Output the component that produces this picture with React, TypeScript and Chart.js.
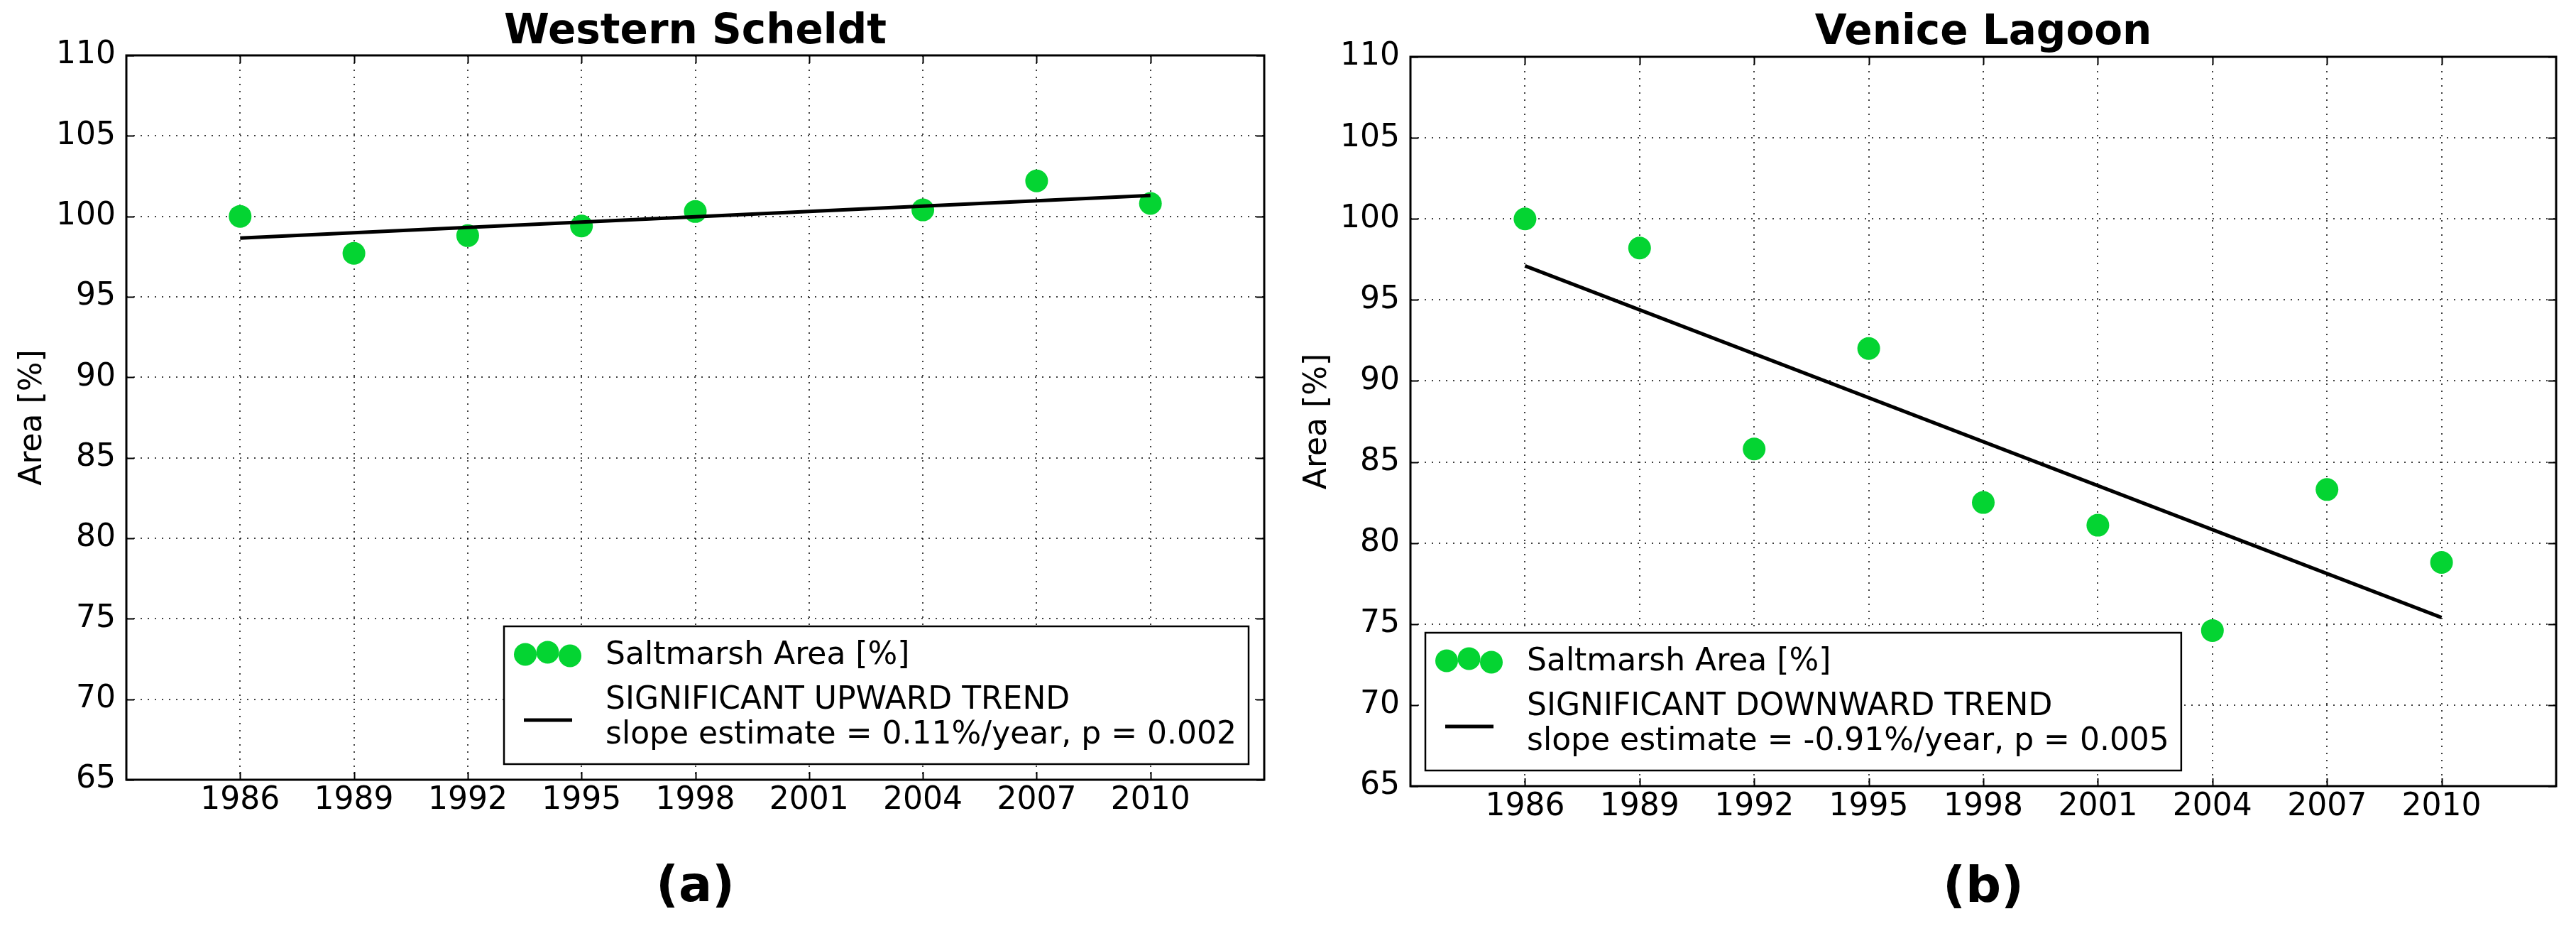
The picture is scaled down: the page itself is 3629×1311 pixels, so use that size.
import { useEffect, useRef } from 'react';
import { Chart, registerables } from 'chart.js';

Chart.register(...registerables);

const FONT = 'DejaVu Sans';
const GREEN = '#04d432';
const PAGE_W = 3629;
const PAGE_H = 1311;

// axis ticks shared by both panels
const xTickYears = [1986, 1989, 1992, 1995, 1998, 2001, 2004, 2007, 2010];
const yTickValues = [65, 70, 75, 80, 85, 90, 95, 100, 105, 110];

// (a) Western Scheldt
const scheldtYears = [1986, 1989, 1992, 1995, 1998, 2004, 2007, 2010];
const scheldtArea = [100.0, 97.7, 98.8, 99.4, 100.3, 100.4, 102.2, 100.8];
const scheldtTrendYears = [1986, 2010];
const scheldtTrend = [98.65, 101.3];

// (b) Venice Lagoon
const veniceYears = [1986, 1989, 1992, 1995, 1998, 2001, 2004, 2007, 2010];
const veniceArea = [100.0, 98.2, 85.8, 92.0, 82.5, 81.1, 74.6, 83.3, 78.8];
const veniceTrendYears = [1986, 2010];
const veniceTrend = [97.1, 75.4];

type Layout = {
  canvasLeft: number;
  canvasWidth: number;
  areaLeft: number;
  areaTop: number;
  areaRight: number;
  areaBottom: number;
  titleMid: number;
  subMid: number;
};

type PanelSpec = {
  title: string;
  tag: string;
  years: number[];
  area: number[];
  trendYears: number[];
  trend: number[];
  legendLines: string[];
  legendSide: 'left' | 'right';
  layout: Layout;
};

const panels: PanelSpec[] = [
  {
    title: 'Western Scheldt',
    tag: '(a)',
    years: scheldtYears,
    area: scheldtArea,
    trendYears: scheldtTrendYears,
    trend: scheldtTrend,
    legendLines: [
      'Saltmarsh Area [%]',
      'SIGNIFICANT UPWARD TREND',
      'slope estimate = 0.11%/year, p = 0.002',
    ],
    legendSide: 'right',
    layout: {
      canvasLeft: 0,
      canvasWidth: 1810,
      areaLeft: 178,
      areaTop: 78,
      areaRight: 1781,
      areaBottom: 1098,
      titleMid: 46,
      subMid: 1251,
    },
  },
  {
    title: 'Venice Lagoon',
    tag: '(b)',
    years: veniceYears,
    area: veniceArea,
    trendYears: veniceTrendYears,
    trend: veniceTrend,
    legendLines: [
      'Saltmarsh Area [%]',
      'SIGNIFICANT DOWNWARD TREND',
      'slope estimate = -0.91%/year, p = 0.005',
    ],
    legendSide: 'left',
    layout: {
      canvasLeft: 1810,
      canvasWidth: 1819,
      areaLeft: 177,
      areaTop: 80,
      areaRight: 1791,
      areaBottom: 1107,
      titleMid: 47,
      subMid: 1252,
    },
  },
];

const TITLE_SIZE = 58;
const TAG_SIZE = 70;
const TICK_SIZE = 44;
const X_AXIS_H = 80;
const GRID_COLOR = 'rgba(0,0,0,0.75)';

// matplotlib-style frame, inward ticks and boxed legend
const framePlugin = {
  id: 'mplFrame',
  afterDraw(chart: any, _args: any, opts: any) {
    const { ctx, chartArea: a, scales } = chart;
    const tick = 11;
    ctx.save();
    ctx.strokeStyle = '#000';
    ctx.lineWidth = 2;
    ctx.beginPath();
    for (const v of xTickYears) {
      const px = Math.round(scales.x.getPixelForValue(v)) + 0.5;
      ctx.moveTo(px, a.bottom);
      ctx.lineTo(px, a.bottom - tick);
      ctx.moveTo(px, a.top);
      ctx.lineTo(px, a.top + tick);
    }
    for (const v of yTickValues) {
      const py = Math.round(scales.y.getPixelForValue(v)) + 0.5;
      ctx.moveTo(a.left, py);
      ctx.lineTo(a.left + tick, py);
      ctx.moveTo(a.right, py);
      ctx.lineTo(a.right - tick, py);
    }
    ctx.stroke();
    ctx.lineWidth = 3;
    ctx.strokeRect(a.left, a.top, a.right - a.left, a.bottom - a.top);

    // legend
    const lines: string[] = opts.lines;
    ctx.font = `${TICK_SIZE}px "${FONT}"`;
    const textW = Math.max(...lines.map((t) => ctx.measureText(t).width));
    const w = 143 + textW + 17;
    const h = 194;
    const x = opts.side === 'right' ? a.right - 22 - w : a.left + 21;
    const y = a.bottom - 22 - h;
    ctx.fillStyle = '#fff';
    ctx.fillRect(x, y, w, h);
    ctx.lineWidth = 2.5;
    ctx.strokeStyle = '#000';
    ctx.strokeRect(x, y, w, h);
    ctx.fillStyle = GREEN;
    for (const [dx, dy] of [
      [30, 39.5],
      [61.5, 36.5],
      [93, 41.5],
    ]) {
      ctx.beginPath();
      ctx.arc(x + dx, y + dy, 16, 0, Math.PI * 2);
      ctx.fill();
    }
    ctx.strokeStyle = '#000';
    ctx.lineWidth = 5;
    ctx.beginPath();
    ctx.moveTo(x + 28, y + 132);
    ctx.lineTo(x + 96, y + 132);
    ctx.stroke();
    ctx.fillStyle = '#000';
    ctx.textAlign = 'left';
    ctx.textBaseline = 'alphabetic';
    ctx.fillText(lines[0], x + 143, y + 53);
    ctx.fillText(lines[1], x + 143, y + 116);
    ctx.fillText(lines[2], x + 143, y + 165);
    ctx.restore();
  },
};

function buildConfig(p: PanelSpec): any {
  const L = p.layout;
  const padTop = L.titleMid - TITLE_SIZE / 2;
  const subPadTop = L.subMid - (L.areaBottom + X_AXIS_H) - TAG_SIZE / 2;
  const padBottom = PAGE_H - (L.areaBottom + X_AXIS_H + subPadTop + TAG_SIZE);

  return {
    type: 'scatter',
    data: {
      datasets: [
        {
          label: 'trend',
          data: p.trendYears.map((x, i) => ({ x, y: p.trend[i] })),
          showLine: true,
          borderColor: '#000',
          borderWidth: 5,
          pointRadius: 0,
          order: 0,
        },
        {
          label: 'Saltmarsh Area [%]',
          data: p.years.map((x, i) => ({ x, y: p.area[i] })),
          backgroundColor: GREEN,
          borderWidth: 0,
          pointRadius: 16,
          order: 1,
        },
      ],
    },
    options: {
      animation: false,
      responsive: true,
      maintainAspectRatio: false,
      devicePixelRatio: 1,
      layout: {
        padding: {
          top: padTop,
          bottom: padBottom,
          left: 0,
          right: L.canvasWidth - L.areaRight,
        },
      },
      plugins: {
        legend: { display: false },
        tooltip: { enabled: false },
        title: {
          display: true,
          text: p.title,
          color: '#000',
          fullSize: false,
          font: { family: FONT, size: TITLE_SIZE, weight: 'bold', lineHeight: 1 },
          padding: { top: 0, bottom: L.areaTop - padTop - TITLE_SIZE },
        },
        subtitle: {
          display: true,
          position: 'bottom',
          text: p.tag,
          color: '#000',
          fullSize: false,
          font: { family: FONT, size: TAG_SIZE, weight: 'bold', lineHeight: 1 },
          padding: { top: subPadTop, bottom: 0 },
        },
        mplFrame: { lines: p.legendLines, side: p.legendSide },
      },
      scales: {
        x: {
          type: 'linear',
          min: 1983,
          max: 2013,
          z: 1,
          afterBuildTicks: (scale: any) => {
            scale.ticks = xTickYears.map((value) => ({ value }));
          },
          afterFit: (scale: any) => {
            scale.height = X_AXIS_H;
          },
          ticks: {
            autoSkip: false,
            maxRotation: 0,
            padding: 3,
            color: '#000',
            font: { family: FONT, size: TICK_SIZE },
            callback: (v: number) => String(v),
          },
          grid: { color: GRID_COLOR, lineWidth: 2, drawTicks: false },
          border: { display: false, dash: [2, 8] },
        },
        y: {
          type: 'linear',
          min: 65,
          max: 110,
          z: 1,
          afterBuildTicks: (scale: any) => {
            scale.ticks = yTickValues.map((value) => ({ value }));
          },
          afterFit: (scale: any) => {
            scale.width = L.areaLeft;
          },
          ticks: {
            padding: 15,
            color: '#000',
            font: { family: FONT, size: TICK_SIZE },
            callback: (v: number) => String(v),
          },
          title: {
            display: true,
            text: 'Area [%]',
            color: '#000',
            font: { family: FONT, size: TICK_SIZE },
            padding: { top: 20, bottom: 0 },
          },
          grid: { color: GRID_COLOR, lineWidth: 2, drawTicks: false },
          border: { display: false, dash: [2, 8] },
        },
      },
    },
    plugins: [framePlugin],
  };
}

function PanelChart({ spec }: { spec: PanelSpec }) {
  const canvasRef = useRef<HTMLCanvasElement>(null);

  useEffect(() => {
    const canvas = canvasRef.current;
    if (!canvas) return;
    const chart = new Chart(canvas, buildConfig(spec));
    return () => chart.destroy();
  }, [spec]);

  return (
    <div
      style={{
        position: 'absolute',
        left: spec.layout.canvasLeft,
        top: 0,
        width: spec.layout.canvasWidth,
        height: PAGE_H,
      }}
    >
      <canvas ref={canvasRef} />
    </div>
  );
}

export default function App() {
  return (
    <div
      style={{
        position: 'absolute',
        left: 0,
        top: 0,
        width: PAGE_W,
        height: PAGE_H,
        background: '#fff',
        overflow: 'hidden',
      }}
    >
      {panels.map((p) => (
        <PanelChart key={p.title} spec={p} />
      ))}
    </div>
  );
}
